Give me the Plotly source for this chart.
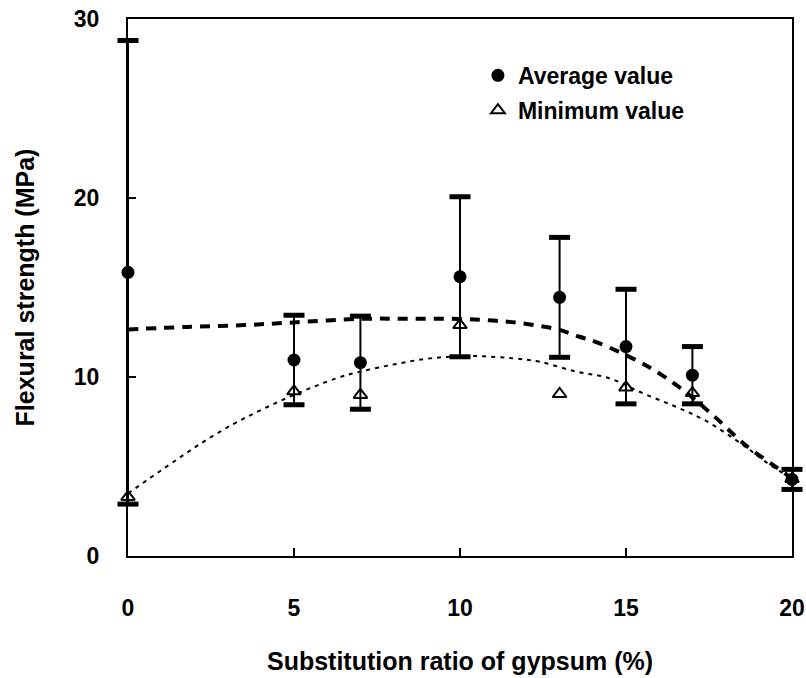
import plotly.graph_objects as go

# Data
ratio = [0, 5, 7, 10, 13, 15, 17, 20]
avg_strength = [15.85, 10.95, 10.8, 15.6, 14.45, 11.7, 10.1, 4.28]
avg_err = [12.95, 2.5, 2.6, 4.47, 3.35, 3.2, 1.6, 0.56]
min_strength = [3.3, 9.2, 9.0, 12.9, 9.05, 9.42, 9.1, 4.3]

# Trend curves
avg_trend_x = [0, 1.8, 3.5, 5, 7, 8.5, 10, 11, 11.7, 12.4, 13, 13.6, 14.2, 15.4, 16, 16.6, 17.6, 18.6, 19.8, 20]
avg_trend_y = [12.66, 12.8, 12.9, 13.05, 13.25, 13.25, 13.24, 13.15, 13.04, 12.85, 12.63, 12.25, 11.88, 10.85, 10.2, 9.44, 7.9, 6.2, 4.6, 4.3]
min_trend_x = [0, 1.16, 2.17, 3.17, 4.0, 5.0, 6.28, 7.0, 8.0, 9.1, 10.4, 11.6, 12.4, 13.5, 14.5, 15.5, 16.5, 17.4, 18.6, 19.2, 20]
min_trend_y = [3.5, 4.99, 6.26, 7.37, 8.15, 9.0, 9.93, 10.3, 10.7, 11.04, 11.17, 11.04, 10.85, 10.3, 9.93, 9.1, 8.34, 7.56, 6.1, 5.27, 4.3]

x_ticks = [0, 5, 10, 15, 20]
y_ticks = [0, 10, 20, 30]

FONT = "Liberation Sans, Arial, sans-serif"

fig = go.Figure()

fig.add_trace(go.Scatter(
    x=avg_trend_x, y=avg_trend_y, mode="lines", line_shape="spline",
    line=dict(color="black", width=4, dash="10px,8px"),
    showlegend=False, hoverinfo="skip", cliponaxis=False))
fig.add_trace(go.Scatter(
    x=min_trend_x, y=min_trend_y, mode="lines", line_shape="spline",
    line=dict(color="black", width=2, dash="4px,5px"),
    showlegend=False, hoverinfo="skip", cliponaxis=False))

# Error bars (stem) for the average values
fig.add_trace(go.Scatter(
    x=ratio, y=avg_strength, mode="markers",
    marker=dict(size=1, color="rgba(0,0,0,0)"),
    error_y=dict(type="data", array=avg_err, visible=True, color="black", thickness=2, width=0),
    showlegend=False, hoverinfo="skip", cliponaxis=False))

# Caps drawn as thick horizontal markers at avg +/- err
upper = [a + e for a, e in zip(avg_strength, avg_err)]
lower = [a - e for a, e in zip(avg_strength, avg_err)]
fig.add_trace(go.Scatter(
    x=ratio + ratio, y=upper + lower, mode="markers",
    marker=dict(symbol="line-ew", size=15, line=dict(color="black", width=5)),
    showlegend=False, hoverinfo="skip", cliponaxis=False))

fig.add_trace(go.Scatter(
    x=ratio, y=min_strength, mode="markers", name="Minimum value",
    marker=dict(symbol="triangle-up-open", size=12, color="black", line=dict(color="black", width=2)),
    legendrank=2, legendgroup="min", cliponaxis=False))
fig.add_trace(go.Scatter(
    x=ratio, y=avg_strength, mode="markers", name="Average value",
    marker=dict(symbol="circle", size=13, color="black"),
    legendrank=1, legendgroup="avg", cliponaxis=False))

fig.update_layout(
    width=806, height=678,
    margin=dict(l=128, r=14, t=19, b=122),
    paper_bgcolor="white", plot_bgcolor="white",
    font=dict(family=FONT, color="black"),
    showlegend=True,
    legend=dict(x=0.527, y=0.935, xanchor="left", yanchor="top",
                bgcolor="rgba(0,0,0,0)", borderwidth=0,
                font=dict(size=23, family=FONT, color="black", weight="bold"),
                tracegroupgap=2, itemsizing="trace"),
)
fig.update_xaxes(
    range=[0, 20], tickvals=x_ticks, ticktext=[str(v) for v in x_ticks],
    showline=True, linecolor="black", linewidth=2, mirror=True,
    ticks="inside", ticklen=8, tickwidth=1.5, tickcolor="black",
    showgrid=False, zeroline=False, automargin=False,
    tickfont=dict(size=23, family=FONT, weight="bold"),
    ticklabelstandoff=30,
    title=dict(text="<b>Substitution ratio of gypsum (%)</b>", font=dict(size=25, family=FONT), standoff=33),
)
fig.update_yaxes(
    range=[0, 30], tickvals=y_ticks, ticktext=[str(v) for v in y_ticks],
    showline=True, linecolor="black", linewidth=2, mirror=True,
    ticks="inside", ticklen=8, tickwidth=1.5, tickcolor="black",
    showgrid=False, zeroline=False, automargin=False,
    tickfont=dict(size=23, family=FONT, weight="bold"),
    ticklabelstandoff=22,
    title=dict(text="<b>Flexural strength (MPa)</b>", font=dict(size=25, family=FONT), standoff=32),
)

fig.write_html("out.html")
